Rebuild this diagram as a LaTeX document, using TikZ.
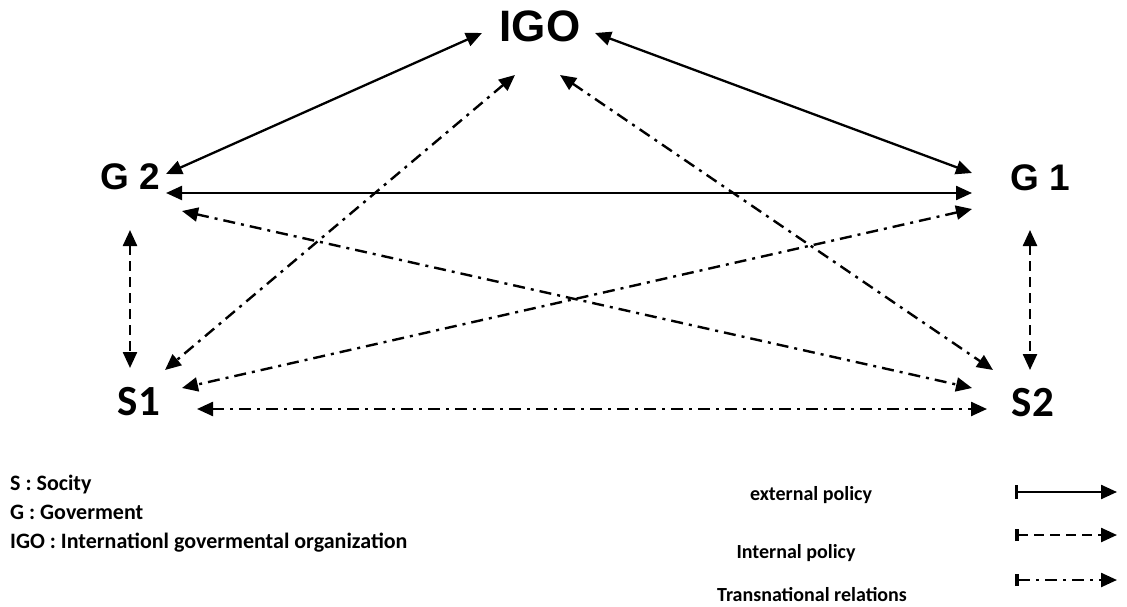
\documentclass[tikz,border=0pt]{standalone}
\usepackage{fontspec}
\usetikzlibrary{arrows.meta,calc}
\newfontfamily\arialfont{Liberation Sans}
\newfontfamily\califont{Carlito}
\begin{document}
\begin{tikzpicture}[x=1pt,y=-1pt,
  >={Triangle[length=16pt,width=14pt]},
  bigtxt/.style={font=\arialfont\bfseries\fontsize{44}{52}\selectfont, inner sep=0pt},
  gtxt/.style={font=\arialfont\bfseries\fontsize{37}{44}\selectfont, inner sep=0pt},
  stxt/.style={font=\califont\bfseries\fontsize{43}{51}\selectfont, inner sep=0pt},
  legtxt/.style={font=\califont\bfseries\fontsize{22}{27}\selectfont, inner sep=0pt},
  legrtxt/.style={font=\califont\bfseries\fontsize{20}{25}\selectfont, inner sep=0pt},
  ext/.style={line width=2.3pt, <->},
  intl/.style={line width=2.4pt, <->, dash pattern=on 10pt off 6pt},
  trans/.style={line width=2.4pt, <->, dash pattern=on 12pt off 6pt on 3pt off 6pt}]
\useasboundingbox (0,0) rectangle (1127,607);

% main nodes
\node[bigtxt] (IGO) at (540,26) {IGO};
\node[gtxt] (G2) at (130,177) {G 2};
\node[gtxt] (G1) at (1040,178) {G 1};
\node[stxt] (S1) at (139,402) {S1};
\node[stxt] (S2) at (1033,403) {S2};

% external policy
\draw[ext] ($(IGO)+(-58,7)$) -- ($(G2)+(36,-3)$);
\draw[ext] ($(IGO)+(55,7)$) -- ($(G1)+(-68,-5)$);
\draw[ext] ($(G2)+(36,16)$) -- ($(G1)+(-68,15)$);

% internal policy
\draw[intl] ($(G2)+(0,53)$) -- ($(S1)+(-9,-34)$);
\draw[intl] ($(G1)+(-10,52)$) -- ($(S2)+(-3,-33)$);

% transnational relations
\draw[trans] ($(IGO)+(-25,49)$) -- ($(S1)+(26,-32)$);
\draw[trans] ($(IGO)+(20,49)$) -- ($(S2)+(-40,-33)$);
\draw[trans] ($(G2)+(52,34)$) -- ($(S2)+(-61,-15)$);
\draw[trans] ($(G1)+(-68,31)$) -- ($(S1)+(43,-14)$);
\draw[trans] ($(S1)+(58,7)$) -- ($(S2)+(-46,6)$);

% legend left
\node[legtxt, anchor=base west] (LS) at (10,490) {S : Socity};
\node[legtxt, anchor=base west] (LG) at (10,519) {G : Goverment};
\node[legtxt, anchor=base west] (LI) at (10,548) {IGO : Internationl govermental organization};

% legend right
\node[legrtxt, anchor=base] (LE) at (811,500) {external policy};
\node[legrtxt, anchor=base] (LN) at (796,558) {Internal policy};
\node[legrtxt, anchor=base] (LT) at (812,601) {Transnational relations};

\coordinate (e1) at (1015,492); \coordinate (e2) at (1117,492);
\coordinate (n1) at (1015,535); \coordinate (n2) at (1117,535);
\coordinate (t1) at (1015,580); \coordinate (t2) at (1117,580);
\draw[line width=2.3pt, {Bar[width=14pt,line width=3pt]}->] (e1) -- (e2);
\draw[line width=2.4pt, dash pattern=on 10pt off 6pt, {Bar[width=12pt,line width=4pt]}->] (n1) -- (n2);
\draw[line width=2.4pt, dash pattern=on 12pt off 6pt on 3pt off 6pt, {Bar[width=12pt,line width=4pt]}->] (t1) -- (t2);
\end{tikzpicture}
\end{document}
